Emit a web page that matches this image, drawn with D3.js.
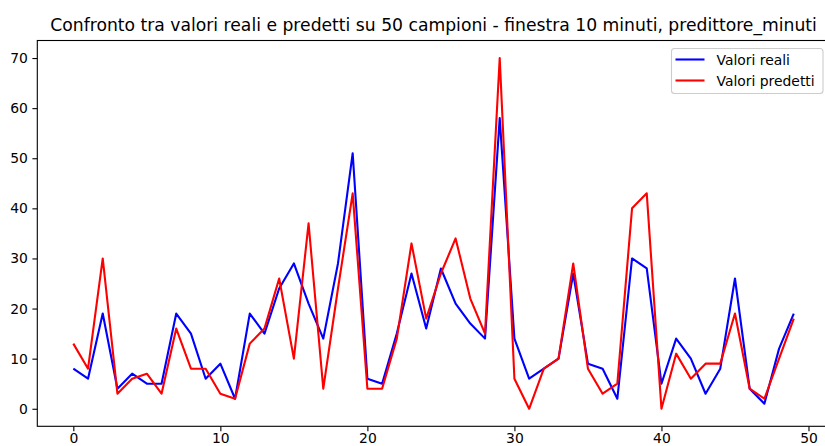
<!DOCTYPE html>
<html><head><meta charset="utf-8">
<script src="https://cdn.jsdelivr.net/npm/d3@7"></script>
<style>
html,body{margin:0;padding:0;background:#fff;}
svg{display:block;font-family:"DejaVu Sans",sans-serif;}
</style></head>
<body><div id="chart"></div>
<script>
const titleText = "Confronto tra valori reali e predetti su 50 campioni - finestra 10 minuti, predittore_minuti";
const seriesNames = ["Valori reali", "Valori predetti"];
const seriesColors = ["#0000ff", "#ff0000"];
const valoriReali = [8,6,19,4,7,5,5,19,15,6,9,2,19,15,24,29,21,14,29,51,6,5,15,27,16,28,21,17,14,58,14,6,8,10,27,9,8,2,30,28,5,14,10,3,8,26,4,1,12,19];
const valoriPredetti = [13,8,30,3,6,7,3,16,8,8,3,2,13,16,26,10,37,4,24,43,4,4,14,33,18,27,34,22,15,70,6,0,8,10,29,8,3,5,40,43,0,11,6,9,9,19,4,2,10,18];
const xTicks = [0,10,20,30,40,50];
const yTicks = [0,10,20,30,40,50,60,70];

const W = 825, H = 446;
const svg = d3.select("#chart").append("svg").attr("width", W).attr("height", H);
svg.append("rect").attr("width", W).attr("height", H).attr("fill", "#fff");

const pL = 37.3, pR = 829.8, pT = 40.5, pB = 426.3;
const x = d3.scaleLinear().domain([-2.45, 51.45]).range([pL, pR]);
const y = d3.scaleLinear().domain([-3.5, 73.5]).range([pB, pT]);

const xa = svg.append("g").attr("transform", `translate(0,${pB})`)
  .call(d3.axisBottom(x).tickValues(xTicks).tickFormat(d3.format("d")).tickSize(4.9).tickPadding(1.5));
const ya = svg.append("g").attr("transform", `translate(${pL},0)`)
  .call(d3.axisLeft(y).tickValues(yTicks).tickFormat(d3.format("d")).tickSize(4.9).tickPadding(4.5));
[xa, ya].forEach(a => {
  a.select(".domain").remove();
  a.selectAll("line").attr("stroke", "#000").attr("stroke-width", 1.1);
  a.selectAll("text").attr("fill", "#000").attr("font-size", "13.9px").attr("font-family", "DejaVu Sans");
});

const line = d3.line().x((d,i) => x(i)).y(d => y(d));
svg.append("clipPath").attr("id","clip").append("rect")
  .attr("x", pL).attr("y", pT).attr("width", pR-pL).attr("height", pB-pT);
const g = svg.append("g").attr("clip-path", "url(#clip)");
[valoriReali, valoriPredetti].forEach((s, k) => {
  g.append("path").datum(s).attr("d", line).attr("fill", "none")
    .attr("stroke", seriesColors[k]).attr("stroke-width", 2.1).attr("stroke-linejoin", "round");
});

// frame
svg.append("rect").attr("x", pL).attr("y", pT).attr("width", pR-pL).attr("height", pB-pT)
  .attr("fill", "none").attr("stroke", "#000").attr("stroke-width", 1.1);

// title
svg.append("text").attr("x", (pL+pR)/2).attr("y", 30.5).attr("text-anchor", "middle")
  .attr("font-size", "17.2px").attr("fill", "#000").text(titleText);

// legend
const lg = svg.append("g");
lg.append("rect").attr("x", 671.5).attr("y", 48.5).attr("width", 151.5).attr("height", 45)
  .attr("rx", 3).attr("fill", "#fff").attr("fill-opacity", 0.8).attr("stroke", "#ccc").attr("stroke-width", 1.1);
seriesNames.forEach((n, k) => {
  const yy = 59.5 + k * 21;
  lg.append("line").attr("x1", 675.5).attr("x2", 704.5).attr("y1", yy).attr("y2", yy)
    .attr("stroke", seriesColors[k]).attr("stroke-width", 2.1);
  lg.append("text").attr("x", 716.5).attr("y", yy + 5).attr("font-size", "13.9px").attr("fill", "#000").text(n);
});
</script></body></html>
